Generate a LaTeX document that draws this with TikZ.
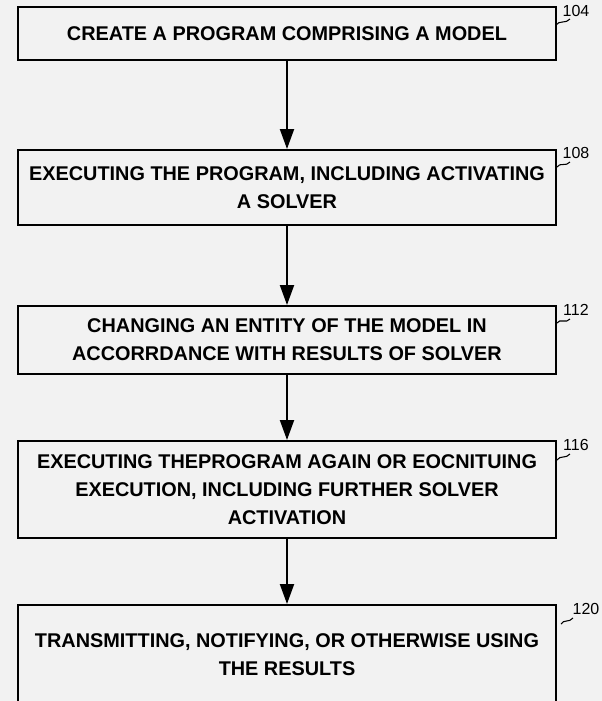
\documentclass[tikz,border=0pt]{standalone}
\usepackage{fontspec}
\setmainfont{Liberation Sans}
\usetikzlibrary{arrows.meta,calc}
\definecolor{paper}{HTML}{F2F2F2}
\begin{document}
\begin{tikzpicture}[x=0.75pt,y=-0.75pt,
  stepbox/.style={draw=black,line width=1.5pt,fill=paper,inner sep=0pt,
    minimum width=403.5pt,align=center,
    font=\bfseries\fontsize{14.9}{20.8}\selectfont},
  flow/.style={line width=1.5pt,-{Triangle[length=15pt,width=10.5pt]}},
  refnum/.style={font=\fontsize{12}{12}\selectfont,inner sep=0pt},
  leader/.style={line width=0.8pt}]
\fill[paper] (0,0) rectangle (602,701);
\useasboundingbox (0,0) rectangle (602,701);
\begin{scope}
\clip (0,0) rectangle (602,701);

% process steps
\node[stepbox,minimum height=39.4pt] (b1) at (287,33.75)
  {CREATE A PROGRAM COMPRISING A MODEL};
\node[stepbox,minimum height=56.25pt] (b2) at (287,187.5)
  {EXECUTING THE PROGRAM, INCLUDING ACTIVATING\\A SOLVER};
\node[stepbox,minimum height=51pt] (b3) at (287,340)
  {CHANGING AN ENTITY OF THE MODEL IN\\ACCORRDANCE WITH RESULTS OF SOLVER};
\node[stepbox,minimum height=72.75pt] (b4) at (287,489.5)
  {EXECUTING THEPROGRAM AGAIN OR EOCNITUING\\EXECUTION, INCLUDING FURTHER SOLVER\\ACTIVATION};
\node[stepbox,minimum height=75pt] (b5) at (287,655)
  {TRANSMITTING, NOTIFYING, OR OTHERWISE USING\\THE RESULTS};

% flow arrows
\draw[flow] (b1) -- (b2);
\draw[flow] (b2) -- (b3);
\draw[flow] (b3) -- (b4);
\draw[flow] (b4) -- (b5);

% reference numerals with their leaders
\node[refnum] (n104) at (576,11) {104};
\node[refnum] (n108) at (576,152.5) {108};
\node[refnum] (n112) at (576,309.5) {112};
\node[refnum] (n116) at (576,444.5) {116};
\node[refnum] (n120) at (586,609) {120};

\coordinate (s104) at (556,25);   \coordinate (e104) at (570,19);
\coordinate (s108) at (557,167);  \coordinate (e108) at (570,162);
\coordinate (s112) at (557,323);  \coordinate (e112) at (570,319);
\coordinate (s116) at (557,460);  \coordinate (e116) at (570,454);
\coordinate (s120) at (561,624);  \coordinate (e120) at (573,618);

\draw[leader] (s104) .. controls (559,20) and (566,24) .. (e104);
\draw[leader] (s108) .. controls (560,162) and (566,167) .. (e108);
\draw[leader] (s112) .. controls (560,318) and (566,324) .. (e112);
\draw[leader] (s116) .. controls (560,455) and (566,459) .. (e116);
\draw[leader] (s120) .. controls (564,619) and (569,623) .. (e120);
\end{scope}
\end{tikzpicture}
\end{document}
